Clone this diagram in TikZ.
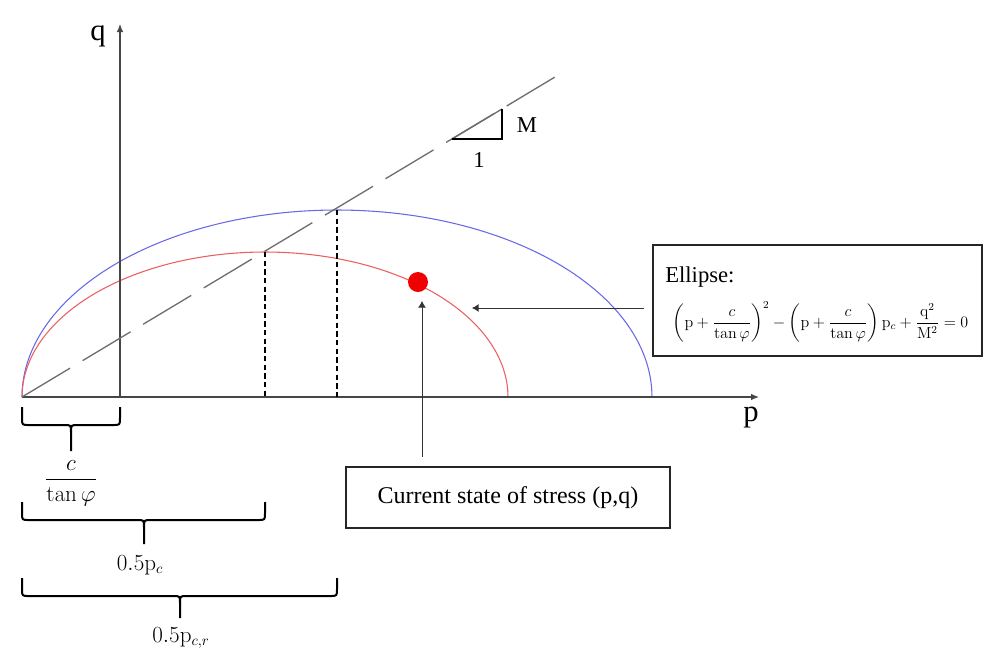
\documentclass[tikz,border=0pt]{standalone}
\usepackage[no-math]{fontspec}
\setmainfont{Liberation Serif}
\usepackage{amsmath}
\usetikzlibrary{arrows.meta}
\definecolor{axisgray}{RGB}{70,70,70}
\definecolor{cslgray}{RGB}{110,110,110}
\definecolor{ellblue}{RGB}{105,105,230}
\definecolor{ellred}{RGB}{235,95,95}
\definecolor{dotred}{RGB}{240,0,0}
\newcommand\mybrc[6]{% x1 x2 ytop ybar ytip xc
  \draw[bracestyle] (#1,#3) -- (#1,#4-7) .. controls (#1,#4) .. (#1+7,#4) -- (#6-7,#4) .. controls (#6,#4) .. (#6,#4+7) -- (#6,#5);
  \draw[bracestyle] (#2,#3) -- (#2,#4-7) .. controls (#2,#4) .. (#2-7,#4) -- (#6+7,#4) .. controls (#6,#4) .. (#6,#4+7);
}
\tikzset{
  axisline/.style={draw=axisgray, line width=0.9pt, -{Latex[length=6pt,width=5pt]}},
  cslline/.style={draw=cslgray, line width=1pt, dash pattern=on 42pt off 11pt},
  projline/.style={draw=black, line width=1pt, dash pattern=on 4pt off 2.5pt},
  bracestyle/.style={draw=black, line width=1.5pt},
  boxstyle/.style={draw=black!85, line width=1pt, inner sep=0pt},
  pointer/.style={draw=black!80, line width=0.7pt, -{Latex[length=5pt,width=6pt]}},
  serifbig/.style={font=\fontsize{23}{26}\selectfont, inner sep=0pt},
  serifmid/.style={font=\fontsize{17}{20}\selectfont, inner sep=0pt},
  mathlbl/.style={font=\fontsize{16}{19}\selectfont, inner sep=0pt},
}
\begin{document}
\begin{tikzpicture}[x=0.75pt,y=-0.75pt]
\useasboundingbox (0,0) rectangle (986,658);
% coordinates
\coordinate (O) at (22,397);
\coordinate (qbase) at (120,397);
\coordinate (qtip) at (120,24);
\coordinate (ptip) at (759,397);
\coordinate (cslend) at (555,77);
\coordinate (redtop) at (265,252);
\coordinate (bluetop) at (337,210);
\coordinate (redfoot) at (265,397);
\coordinate (bluefoot) at (337,397);
% ellipses
\draw[ellblue, line width=0.8pt] plot[domain=180:0, samples=120] ({337+315*cos(\x)},{397-187*sin(\x)});
\draw[ellred, line width=0.8pt] plot[domain=180:0, samples=120] ({265+243*cos(\x)},{397-145*sin(\x)});
% axes
\draw[axisline] (O) -- (ptip);
\draw[axisline] (qbase) -- (qtip);
\node[serifbig] (qlbl) at (98,36) {q};
\node[serifbig] (plbl) at (751,418) {p};
% CSL line
\draw[cslline] (O) -- (cslend);
% slope triangle
\coordinate (tA) at (452,139);
\coordinate (tB) at (502,139);
\coordinate (tC) at (502,109);
\draw[cslgray, line width=1pt] (tA) -- (tC);
\draw[black, line width=0.9pt] (tA) -- (tB) -- (tC);
\node[serifmid] (Mlbl) at (527,125) {M};
\node[serifmid] (onelbl) at (479,160) {1};
% projections
\draw[projline] (redtop) -- (redfoot);
\draw[projline] (bluetop) -- (bluefoot);
% current stress point
\node[circle, fill=dotred, minimum size=15pt, inner sep=0pt] (dot) at (418,282) {};
% boxes
\node[boxstyle, minimum width=246.75pt, minimum height=83.25pt] (ebox) at (817.5,300.5) {};
\node[serifmid, anchor=base west] (etitle) at (665,282) {Ellipse:};
\node[inner sep=0pt, font=\fontsize{12.1}{15}\selectfont] (eform) at (820.5,322)
  {$\left(\mathrm{p}+\dfrac{c}{\tan\varphi}\right)^{2}-\left(\mathrm{p}+\dfrac{c}{\tan\varphi}\right)\mathrm{p}_{c}+\dfrac{\mathrm{q}^{2}}{\mathrm{M}^{2}}=0$};
\node[boxstyle, minimum width=243pt, minimum height=45.75pt, font=\fontsize{18}{21}\selectfont] (cbox) at (508,497.5) {Current state of stress (p,q)};
% pointers
\coordinate (ellpt) at (472,308);
\coordinate (dotpt) at (422,301);
\draw[pointer, shorten <=6pt] (ebox.west |- ellpt) -- (ellpt);
\draw[pointer, shorten <=7pt] (cbox.north -| dotpt) -- (dotpt);
% braces
\mybrc{22}{120}{407}{425}{451}{71}
\mybrc{22}{265}{502}{520}{544}{144}
\mybrc{22}{337}{578}{596}{618}{180}
\node[mathlbl] (lbl1) at (71,483) {$\dfrac{c}{\tan\varphi}$};
\node[mathlbl] (lbl2) at (140,565) {$0.5\mathrm{p}_{c}$};
\node[mathlbl] (lbl3) at (181,638) {$0.5\mathrm{p}_{c,r}$};
\end{tikzpicture}
\end{document}
